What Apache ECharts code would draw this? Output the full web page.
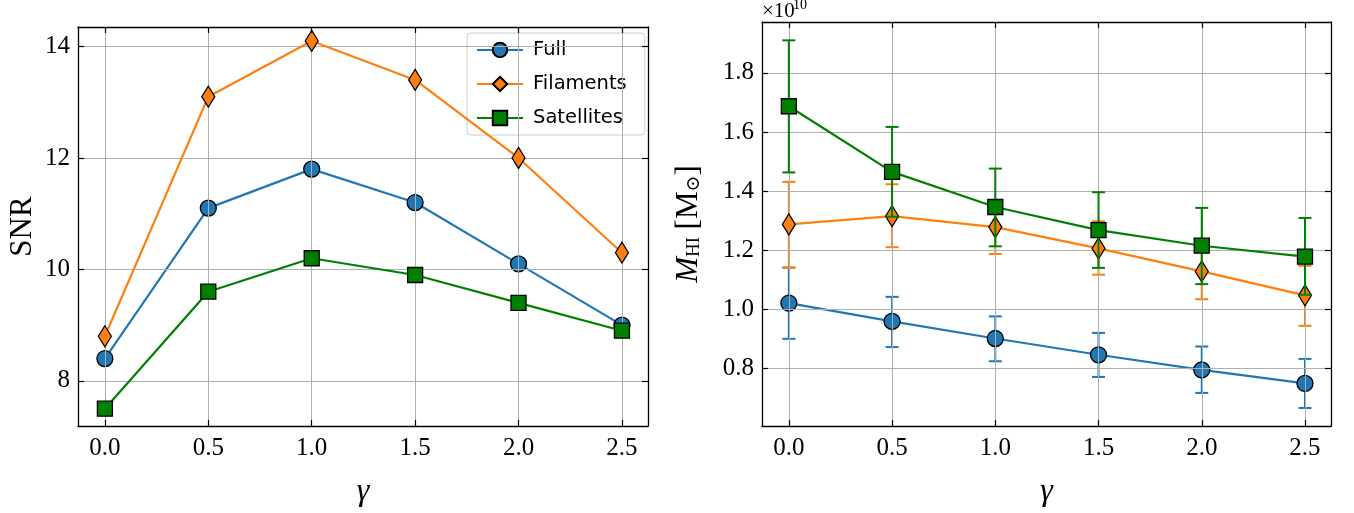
<!DOCTYPE html>
<html><head><meta charset="utf-8">
<script src="https://cdn.jsdelivr.net/npm/echarts@6/dist/echarts.min.js"></script>
<style>html,body{margin:0;padding:0;background:#fff}#c{width:1354px;height:513px}</style>
</head><body><div id="c"></div>
<script>
// ---- data ----
const gamma = [0.0, 0.5, 1.0, 1.5, 2.0, 2.5];
const snrFull = [8.4, 11.1, 11.8, 11.2, 10.1, 9.0];
const snrFil = [8.8, 13.1, 14.1, 13.4, 12.0, 10.3];
const snrSat = [7.5, 9.6, 10.2, 9.9, 9.4, 8.9];
// M_HI in units of 1e10 Msun
const mFull = [1.021, 0.959, 0.901, 0.846, 0.795, 0.749];
const mFullLo = [0.900, 0.872, 0.824, 0.771, 0.717, 0.666];
const mFullHi = [1.141, 1.042, 0.976, 0.920, 0.874, 0.832];
const mFil = [1.287, 1.315, 1.278, 1.206, 1.128, 1.047];
const mFilLo = [1.141, 1.210, 1.187, 1.117, 1.034, 0.944];
const mFilHi = [1.431, 1.423, 1.365, 1.298, 1.213, 1.147];
const mSat = [1.687, 1.465, 1.346, 1.268, 1.215, 1.178];
const mSatLo = [1.463, 1.313, 1.213, 1.140, 1.085, 1.049];
const mSatHi = [1.910, 1.617, 1.476, 1.396, 1.343, 1.309];
const xTicks = [0.0, 0.5, 1.0, 1.5, 2.0, 2.5];
const yTicksL = [8, 10, 12, 14];
const yTicksR = [0.8, 1.0, 1.2, 1.4, 1.6, 1.8];
const seriesNames = ['Full', 'Filaments', 'Satellites'];

// ---- styling ----
const C = { Full: '#1f77b4', Filaments: '#ff7f0e', Satellites: '#008000' };
const SERIF = '"Liberation Serif", "DejaVu Serif", serif';
const SANS = '"DejaVu Sans", "Liberation Sans", sans-serif';
const sym = { Full: ['circle', 16], Filaments: ['diamond', [13, 21]], Satellites: ['rect', 15] };

const chart = echarts.init(document.getElementById('c'), null, { renderer: 'canvas' });

function pairs(xs, ys) { return xs.map((x, i) => [x, ys[i]]); }
function errData(xs, lo, hi) { return xs.map((x, i) => [x, lo[i], hi[i]]); }

function errRender(color) {
  return function (params, api) {
    const x = api.value(0);
    const pLo = api.coord([x, api.value(1)]);
    const pHi = api.coord([x, api.value(2)]);
    const cap = 6.5;
    const st = { stroke: color, lineWidth: 2 };
    return {
      type: 'group', children: [
        { type: 'line', shape: { x1: pLo[0], y1: pLo[1], x2: pHi[0], y2: pHi[1] }, style: st },
        { type: 'line', shape: { x1: pLo[0] - cap, y1: pLo[1], x2: pLo[0] + cap, y2: pLo[1] }, style: st },
        { type: 'line', shape: { x1: pHi[0] - cap, y1: pHi[1], x2: pHi[0] + cap, y2: pHi[1] }, style: st }
      ]
    };
  };
}

function gridLineSeries(xi, yi, xt, yt) {
  const ls = { color: '#b0b0b0', width: 1, type: 'solid' };
  return {
    type: 'line', xAxisIndex: xi, yAxisIndex: yi, data: [], silent: true, z: 0,
    markLine: {
      silent: true, symbol: 'none', animation: false, label: { show: false },
      lineStyle: ls,
      data: xt.map(v => ({ xAxis: v })).concat(yt.map(v => ({ yAxis: v })))
    }
  };
}

function xAxisDef(gi, pos, show) {
  return {
    type: 'value', gridIndex: gi, position: pos, min: -0.13, max: 2.626, z: 20,
    axisLine: { show: true, onZero: false, lineStyle: { color: '#000', width: 1.3 } },
    axisTick: { show: true, inside: true, length: 6, customValues: xTicks, lineStyle: { color: '#000', width: 1.2 } },
    axisLabel: show ? { show: true, customValues: xTicks, formatter: v => v.toFixed(1), fontFamily: SERIF, fontSize: 25, color: '#000', margin: 10 } : { show: false },
    splitLine: { show: false },
    name: show ? 'γ' : '', nameLocation: 'middle', nameGap: 50,
    nameTextStyle: { fontFamily: SERIF, fontStyle: 'italic', fontSize: 32, color: '#000' }
  };
}

function yAxisDef(gi, pos, min, max, ticks, fmt, show, name, nameGap, nameStyle) {
  return {
    type: 'value', gridIndex: gi, position: pos, min: min, max: max, z: 20,
    axisLine: { show: true, onZero: false, lineStyle: { color: '#000', width: 1.3 } },
    axisTick: { show: true, inside: true, length: 6, customValues: ticks, lineStyle: { color: '#000', width: 1.2 } },
    axisLabel: show ? { show: true, customValues: ticks, formatter: fmt, fontFamily: SERIF, fontSize: 25, color: '#000', margin: 8 } : { show: false },
    splitLine: { show: false },
    name: show ? name : '', nameLocation: 'middle', nameGap: nameGap, nameRotate: 90,
    nameTextStyle: nameStyle
  };
}

const series = [];
series.push(gridLineSeries(0, 0, xTicks, yTicksL));
series.push(gridLineSeries(2, 2, xTicks, yTicksR));

const snr = { Full: snrFull, Filaments: snrFil, Satellites: snrSat };
const mv = { Full: [mFull, mFullLo, mFullHi], Filaments: [mFil, mFilLo, mFilHi], Satellites: [mSat, mSatLo, mSatHi] };

seriesNames.forEach((n, k) => {
  series.push({
    name: n, type: 'line', xAxisIndex: 0, yAxisIndex: 0, data: pairs(gamma, snr[n]),
    z: 3 + 2 * k, symbol: sym[n][0], symbolSize: sym[n][1],
    lineStyle: { color: C[n], width: 2.2 },
    itemStyle: { color: C[n], borderColor: '#000', borderWidth: 1.3 },
    emphasis: { disabled: true }, animation: false
  });
});
seriesNames.forEach((n, k) => {
  series.push({
    name: n + ' err', type: 'custom', xAxisIndex: 2, yAxisIndex: 2,
    data: errData(gamma, mv[n][1], mv[n][2]), renderItem: errRender(C[n]),
    z: 2 + 2 * k, animation: false, silent: true
  });
  series.push({
    name: n + ' M', type: 'line', xAxisIndex: 2, yAxisIndex: 2, data: pairs(gamma, mv[n][0]),
    z: 3 + 2 * k, symbol: sym[n][0], symbolSize: sym[n][1],
    lineStyle: { color: C[n], width: 2.2 },
    itemStyle: { color: C[n], borderColor: '#000', borderWidth: 1.3 },
    emphasis: { disabled: true }, animation: false
  });
});

const option = {
  backgroundColor: '#fff',
  animation: false,
  grid: [
    { left: 78, top: 27, width: 570, height: 408, containLabel: false },
    { left: 762, top: 22, width: 569, height: 414, containLabel: false }
  ],
  xAxis: [
    xAxisDef(0, 'bottom', true), xAxisDef(0, 'top', false),
    xAxisDef(1, 'bottom', true), xAxisDef(1, 'top', false)
  ],
  yAxis: [
    yAxisDef(0, 'left', 7.19, 14.35, yTicksL, v => String(v), true, 'SNR', 40,
      { fontFamily: SERIF, fontSize: 31, color: '#000' }),
    yAxisDef(0, 'right', 7.19, 14.35, yTicksL, null, false),
    yAxisDef(1, 'left', 0.605, 1.972, yTicksR, v => v.toFixed(1), true,
      '{i|M}{s|HI} {r|[M}{s|⊙}{r|]}', 58,
      {
        fontFamily: SERIF, fontSize: 30, color: '#000',
        rich: {
          i: { fontFamily: SERIF, fontStyle: 'italic', fontSize: 31, color: '#000' },
          r: { fontFamily: SERIF, fontSize: 31, color: '#000' },
          s: { fontFamily: SERIF, fontSize: 19, color: '#000', verticalAlign: 'bottom', padding: [0, 0, 0, 0] }
        }
      }),
    yAxisDef(1, 'right', 0.605, 1.972, yTicksR, null, false)
  ],
  legend: {
    data: seriesNames, orient: 'vertical', left: 467, top: 33,
    padding: [7, 18, 7, 9], itemWidth: 46, itemHeight: 18, itemGap: 14,
    backgroundColor: 'rgba(255,255,255,0.8)', borderColor: '#cccccc', borderWidth: 1, borderRadius: 4,
    textStyle: { fontFamily: SANS, fontSize: 19.5, color: '#000', padding: [0, 0, 0, 5] }
  },
  graphic: [
    { type: 'text', x: 762, y: 1, style: { text: '×10', font: '21px "Liberation Serif", serif', fill: '#000', textVerticalAlign: 'top' } },
    { type: 'text', x: 793, y: -2, style: { text: '10', font: '14px "Liberation Serif", serif', fill: '#000', textVerticalAlign: 'top' } }
  ],
  series: series
};
chart.setOption(option);
</script></body></html>
